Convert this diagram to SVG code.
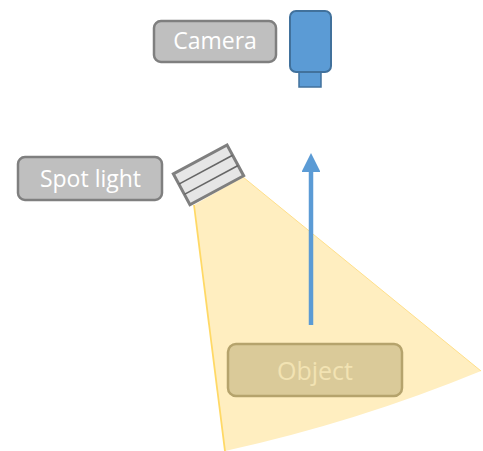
<svg xmlns="http://www.w3.org/2000/svg" width="483" height="451" viewBox="0 0 483 451">
<style>
.lbl rect{fill:#BFBFBF;stroke:#7F7F7F;stroke-width:2.5}
.lbl text{fill:#FFFFFF;font-family:"Open Sans",sans-serif;font-size:23px;text-anchor:middle}
</style>
<defs>
<marker id="ah" viewBox="0 0 10 10" refX="1" refY="5" markerWidth="4.2" markerHeight="4.2" orient="auto" markerUnits="strokeWidth">
<path d="M0,0 L10,5 L0,10 Z" fill="#5B9BD5"/>
</marker>
</defs>
<rect width="483" height="451" fill="#FFFFFF"/>
<g id="beam">
<path d="M194,205 L243,177 L481,371 Q357,422 225,451 Z" fill="#FFEEC0"/>
<path d="M194,205 L225,451" stroke="#FFD966" stroke-width="1.8" fill="none"/>
<path d="M243,177 L481,371" stroke="#FFE08A" stroke-width="1" fill="none"/>
</g>
<g id="spotlight" transform="translate(208.5,174.8) rotate(-28.3)">
<rect x="-30.5" y="-17.5" width="61" height="35" fill="#E6E6E6" stroke="#7F7F7F" stroke-width="3"/>
<line x1="-30.5" y1="-5.8" x2="30.5" y2="-5.8" stroke="#666666" stroke-width="1.6"/>
<line x1="-30.5" y1="5.8" x2="30.5" y2="5.8" stroke="#666666" stroke-width="1.6"/>
</g>
<g id="camera">
<rect x="299" y="72" width="22" height="15" fill="#5B9BD5" stroke="#41719C" stroke-width="1.5"/>
<rect x="290" y="11" width="41" height="61" rx="6" fill="#5B9BD5" stroke="#41719C" stroke-width="2"/>
</g>
<g id="camera-label" class="lbl">
<rect x="154" y="21" width="122" height="41" rx="7"/>
<text x="215" y="49">Camera</text>
</g>
<g id="spotlight-label" class="lbl">
<rect x="18" y="157" width="144" height="43" rx="7"/>
<text x="90.5" y="187">Spot light</text>
</g>
<g id="object">
<rect x="228" y="344" width="174" height="52" rx="8" fill="#DACA99" stroke="#B5A36C" stroke-width="2.5"/>
<text x="315" y="380" fill="#F2E3B3" font-family="&quot;Open Sans&quot;,sans-serif" font-size="25" text-anchor="middle">Object</text>
</g>
<g id="connectors">
<line x1="311" y1="325" x2="311" y2="170" stroke="#5B9BD5" stroke-width="4.5" marker-end="url(#ah)"/>
</g>
</svg>
